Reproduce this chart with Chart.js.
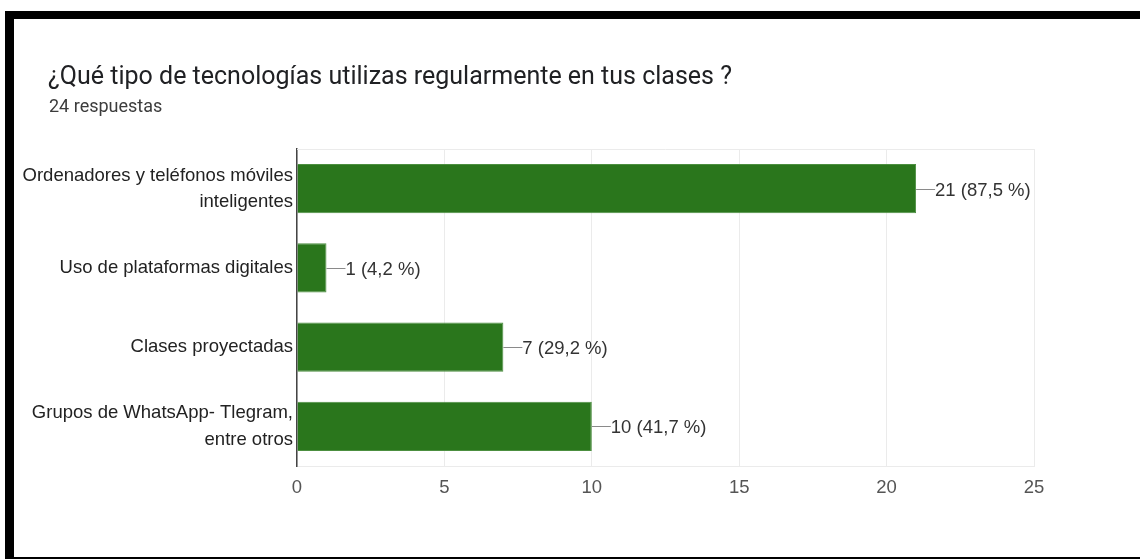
<!DOCTYPE html>
<html lang="es">
<head>
<meta charset="UTF-8">
<title>Tecnologías en clase</title>
<script src="https://cdn.jsdelivr.net/npm/chart.js"></script>
<style>
  html, body { margin: 0; padding: 0; background: #fff; }
  .frame { position: relative; width: 1140px; height: 559px; overflow: hidden; }
  .bar-top { position: absolute; left: 5px; top: 11px; width: 1135px; height: 8px; background: #000; }
  .bar-left { position: absolute; left: 5px; top: 11px; width: 9px; height: 548px; background: #000; }
  .bar-bottom { position: absolute; left: 5px; top: 557px; width: 1135px; height: 2px; background: #000; }
  canvas { position: absolute; left: 0; top: 0; }
</style>
</head>
<body>
<div class="frame">
  <canvas id="chart" width="1140" height="559"></canvas>
  <div class="bar-top"></div>
  <div class="bar-left"></div>
  <div class="bar-bottom"></div>
</div>
<script>
const categories = [
  ["Ordenadores y teléfonos móviles", "inteligentes"],
  "Uso de plataformas digitales",
  "Clases proyectadas",
  ["Grupos de WhatsApp- Tlegram,", "entre otros"]
];
const counts = [21, 1, 7, 10];
const percents = ["87,5", "4,2", "29,2", "41,7"];
const xTicks = [0, 5, 10, 15, 20, 25];
const totalAnswers = 24;

// title, subtitle, top border and value labels
const extras = {
  id: "extras",
  beforeDraw(chart) {
    const { ctx } = chart;
    ctx.save();
    ctx.fillStyle = "#202124";
    ctx.font = "25px Roboto";
    ctx.textBaseline = "alphabetic";
    ctx.fillText("¿Qué tipo de tecnologías utilizas regularmente en tus clases ?", 48, 84);
    ctx.fillStyle = "#3c3c3c";
    ctx.font = "18px Roboto";
    ctx.fillText(totalAnswers + " respuestas", 49, 112);
    ctx.restore();
  },
  afterDraw(chart) {
    const { ctx, chartArea } = chart;
    ctx.save();
    ctx.strokeStyle = "#ebebeb";
    ctx.lineWidth = 1;
    ctx.beginPath();
    ctx.moveTo(chartArea.left, chartArea.top + 0.5);
    ctx.lineTo(chartArea.right, chartArea.top + 0.5);
    ctx.stroke();

    const meta = chart.getDatasetMeta(0);
    ctx.font = "18.5px 'Liberation Sans'";
    ctx.textBaseline = "middle";
    meta.data.forEach((bar, i) => {
      const x = bar.x, y = Math.round(bar.y) + 0.5;
      ctx.strokeStyle = "#8a8a8a";
      ctx.beginPath();
      ctx.moveTo(x, y);
      ctx.lineTo(x + 19, y);
      ctx.stroke();
      ctx.fillStyle = "#333";
      ctx.fillText(counts[i] + " (" + percents[i] + " %)", x + 19, y + 1);
    });
    ctx.restore();
  }
};

new Chart(document.getElementById("chart"), {
  type: "bar",
  data: {
    labels: categories,
    datasets: [{
      data: counts,
      backgroundColor: "#2a761c",
      borderColor: "#4c8f40",
      borderWidth: 1,
      borderSkipped: "left",
      categoryPercentage: 1,
      barPercentage: 0.62
    }]
  },
  options: {
    indexAxis: "y",
    responsive: false,
    animation: false,
    layout: { padding: { left: 0, right: 106, top: 149, bottom: 53 } },
    plugins: { legend: { display: false }, tooltip: { enabled: false } },
    scales: {
      x: {
        min: 0,
        max: 25,
        afterBuildTicks(scale) { scale.ticks = xTicks.map(v => ({ value: v })); },
        afterFit(scale) { scale.height = 40; },
        grid: { color: "#ebebeb", drawTicks: false },
        border: { color: "#ebebeb" },
        ticks: { padding: 11, color: "#555", font: { family: "Liberation Sans", size: 18.5 } }
      },
      y: {
        afterFit(scale) { scale.width = 297; },
        grid: { display: false, drawTicks: false },
        border: { color: "#444", width: 1.5 },
        ticks: { padding: 4, color: "#222", font: { family: "Liberation Sans", size: 18.5, lineHeight: 1.42 } }
      }
    }
  },
  plugins: [extras]
});
</script>
</body>
</html>
